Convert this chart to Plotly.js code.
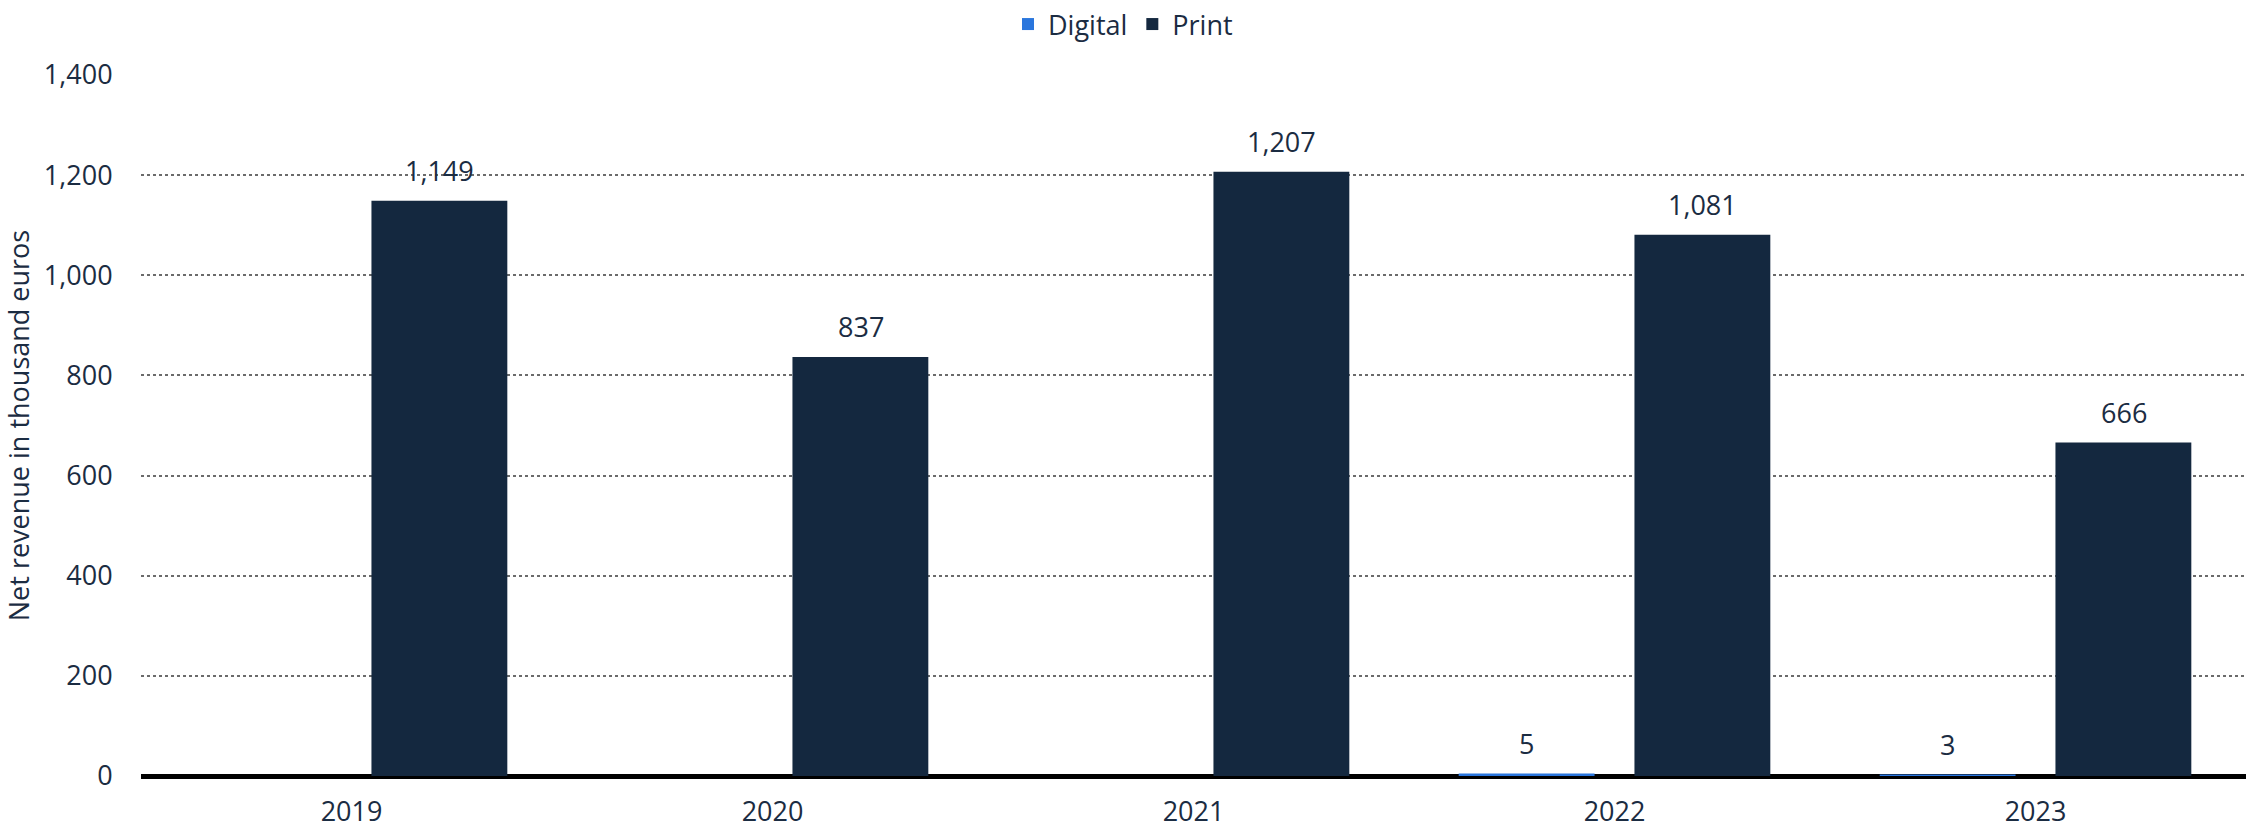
<!DOCTYPE html>
<html>
<head>
<meta charset="utf-8">
<script src="https://cdn.plot.ly/plotly-3.0.1.min.js"></script>
<style>html,body{margin:0;padding:0;background:#fff;}#chart{width:2246px;height:831px;}</style>
</head>
<body>
<div id="chart"></div>
<script>
var years = ['2019', '2020', '2021', '2022', '2023'];
var digital = [null, null, null, 5, 3];
var print = [1149, 837, 1207, 1081, 666];
var yTicks = [0, 200, 400, 600, 800, 1000, 1200, 1400];
var yTickLabels = ['0', '200', '400', '600', '800', '1,000', '1,200', '1,400'];

var textColor = '#1b2c42';
var fontFam = '"Open Sans", "Noto Sans", sans-serif';
var fs = 27;

function fmt(v) { return v.toLocaleString('en-US'); }

var traces = [
  {type: 'bar', name: 'Digital', x: years, y: digital, marker: {color: '#2a76dd'}, hoverinfo: 'none'},
  {type: 'bar', name: 'Print', x: years, y: print, marker: {color: '#14283f'}, hoverinfo: 'none'}
];

var annotations = [];
function addLabels(vals, shift) {
  vals.forEach(function (v, i) {
    if (v === null) return;
    annotations.push({
      x: i, y: v, xref: 'x', yref: 'y', text: fmt(v), showarrow: false,
      xshift: shift, yshift: 30, yanchor: 'middle', xanchor: 'center',
      font: {family: fontFam, size: fs, color: textColor}
    });
  });
}
addLabels(digital, -88);
addLabels(print, 88);

var layout = {
  width: 2246, height: 831,
  margin: {l: 141, r: 0, t: 75, b: 55},
  paper_bgcolor: '#fff', plot_bgcolor: '#fff',
  font: {family: fontFam, size: fs, color: textColor},
  barmode: 'group', bargap: 0.165, bargroupgap: 0.227,
  showlegend: true,
  legend: {orientation: 'h', xref: 'container', x: 0.5, xanchor: 'center', yref: 'container', y: 1, yanchor: 'top',
           font: {family: fontFam, size: fs, color: textColor}, itemclick: false, traceorder: 'normal'},
  xaxis: {type: 'category', range: [-0.5, 4.5], autorange: false, showgrid: false, showline: false, zeroline: false,
          ticks: 'outside', ticklen: 12, tickcolor: 'rgba(0,0,0,0)',
          tickfont: {family: fontFam, size: fs, color: textColor}},
  yaxis: {range: [0, 1400], autorange: false, tickvals: yTicks, ticktext: yTickLabels,
          showgrid: true, gridcolor: '#6b6b6b', griddash: 'dot', gridwidth: 2,
          zeroline: true, zerolinecolor: '#000', zerolinewidth: 5,
          ticks: 'outside', ticklen: 22, tickcolor: 'rgba(0,0,0,0)',
          tickfont: {family: fontFam, size: fs, color: textColor},
          title: {text: 'Net revenue in thousand euros', standoff: 6, font: {family: fontFam, size: fs, color: textColor}},
          automargin: false},
  annotations: annotations
};

Plotly.newPlot('chart', traces, layout, {displayModeBar: false, staticPlot: true});
</script>
</body>
</html>
